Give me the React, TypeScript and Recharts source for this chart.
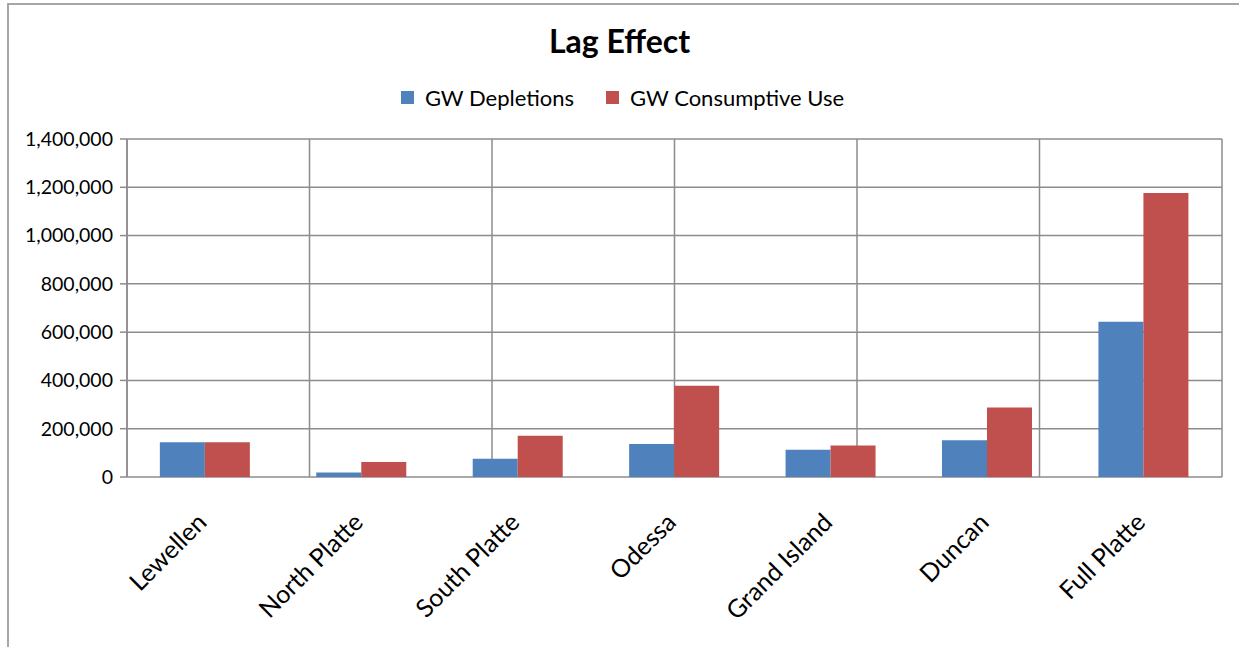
import {
  BarChart,
  Bar,
  XAxis,
  YAxis,
  CartesianGrid,
} from "recharts";

/* ================= DATA ================= */
const sites = [
  "Lewellen",
  "North Platte",
  "South Platte",
  "Odessa",
  "Grand Island",
  "Duncan",
  "Full Platte",
];
const gwDepletions = [144000, 19000, 76000, 137000, 113000, 152000, 643000];
const gwConsumptiveUse = [144000, 62000, 171000, 378000, 130000, 288000, 1176000];
const yTicks = [0, 200000, 400000, 600000, 800000, 1000000, 1200000, 1400000];
const edgeTicks = [0, 1, 2, 3, 4, 5, 6, 7];

const rows = sites.map((site, i) => ({
  site,
  depletions: gwDepletions[i],
  consumptive: gwConsumptiveUse[i],
}));

/* ================= STYLE ================= */
const FONT = "Lato, 'Open Sans', sans-serif";
const colors = {
  blue: "#4F81BD",
  red: "#C0504D",
  grid: "#8c8c8c",
  frame: "#a6a6a6",
  text: "#000000",
};

const series = [
  { key: "depletions", name: "GW Depletions", color: colors.blue },
  { key: "consumptive", name: "GW Consumptive Use", color: colors.red },
];

/* -------- rotated category label -------- */
function SiteTick(props: any) {
  const { x, y, payload } = props;
  return (
    <g transform={`translate(${x + 3},${y + 39})`}>
      <text
        transform="rotate(-45)"
        textAnchor="end"
        fill={colors.text}
        fontSize={25}
        fontFamily={FONT}
      >
        {payload.value}
      </text>
    </g>
  );
}

function LegendRow() {
  return (
    <div
      style={{
        position: "absolute",
        top: 84,
        left: 3,
        width: 1239,
        display: "flex",
        justifyContent: "center",
        gap: 32,
        fontFamily: FONT,
        fontSize: 22,
        color: colors.text,
      }}
    >
      {series.map((s) => (
        <div key={s.key} style={{ display: "flex", alignItems: "center" }}>
          <span
            style={{
              width: 13,
              height: 13,
              background: s.color,
              marginRight: 11,
              display: "inline-block",
            }}
          />
          {s.name}
        </div>
      ))}
    </div>
  );
}

/* ================= COMPONENT ================= */
export default function App() {
  return (
    <div
      style={{
        position: "absolute",
        left: 0,
        top: 0,
        width: 1239,
        height: 647,
        background: "#fff",
        overflow: "hidden",
      }}
    >
      {/* chart frame (right / bottom edges fall outside the shot) */}
      <div
        style={{
          position: "absolute",
          left: 7,
          top: 3,
          width: 1260,
          height: 680,
          borderLeft: `2px solid ${colors.frame}`,
          borderTop: `2px solid ${colors.frame}`,
        }}
      />

      <div style={{ position: "absolute", left: 0, top: 0 }}>
        <BarChart
          width={1239}
          height={647}
          data={rows}
          barCategoryGap="21%"
          barGap={0}
          margin={{ top: 139, right: 17, left: 10, bottom: 20 }}
        >
          <CartesianGrid
            xAxisId="edges"
            stroke={colors.grid}
            strokeWidth={1.5}
          />

          <XAxis
            xAxisId="edges"
            type="number"
            domain={[0, 7]}
            ticks={edgeTicks}
            allowDataOverflow
            height={0}
            tick={() => <g />}
            tickSize={7}
            tickLine={{ stroke: colors.grid, strokeWidth: 1.5 }}
            axisLine={{ stroke: colors.grid, strokeWidth: 1.5 }}
          />
          <XAxis
            xAxisId="cat"
            dataKey="site"
            height={150}
            interval={0}
            axisLine={false}
            tickLine={false}
            tick={<SiteTick />}
          />

          <YAxis
            width={117}
            domain={[0, 1400000]}
            ticks={yTicks}
            interval={0}
            tickSize={7}
            tickMargin={7}
            tickFormatter={(v: number) => v.toLocaleString("en-US")}
            tick={{ fill: colors.text, fontSize: 19.5, fontFamily: FONT }}
            tickLine={{ stroke: colors.grid, strokeWidth: 1.5 }}
            axisLine={{ stroke: colors.grid, strokeWidth: 1.5 }}
          />

          {series.map((s) => (
            <Bar
              key={s.key}
              xAxisId="cat"
              dataKey={s.key}
              name={s.name}
              fill={s.color}
              isAnimationActive={false}
            />
          ))}
        </BarChart>
      </div>

      <div
        style={{
          position: "absolute",
          top: 21,
          left: 0,
          width: 1239,
          textAlign: "center",
          fontFamily: FONT,
          fontWeight: 700,
          fontSize: 32,
          color: colors.text,
        }}
      >
        Lag Effect
      </div>

      <LegendRow />
    </div>
  );
}
